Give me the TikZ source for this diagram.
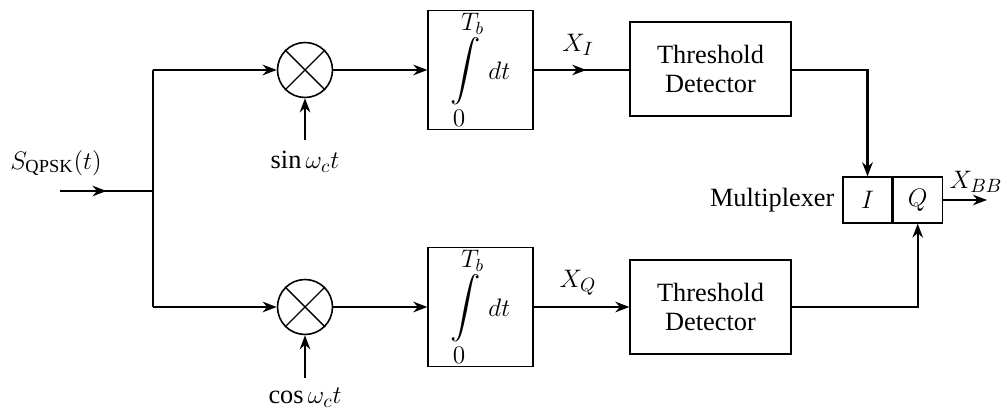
\documentclass[tikz,border=0pt]{standalone}
\usepackage{amsmath}
\usepackage{fontspec}
\setmainfont{Liberation Serif}
\usepackage{tikz}
\usetikzlibrary{arrows.meta,decorations.markings,positioning}
\newcommand{\intlim}[1]{\mbox{\fontsize{14}{16}\selectfont$#1$}}
\newcommand{\intbody}{{\fontsize{17}{20}\selectfont
  $\displaystyle\int\limits_{\intlim{0}}^{\intlim{T_b}}$}\;$dt$}

\begin{document}
\begin{tikzpicture}[x=0.02cm,y=-0.02cm,>={Stealth[length=8pt,width=6pt]},
  every node/.style={font=\fontsize{15}{17}\selectfont},
  sig/.style={line width=1.2pt},
  midarrow/.style={decoration={markings,
      mark=at position #1 with {\arrow{Stealth[length=8pt,width=6pt]}}},
    postaction={decorate}},
  mixer/.style={draw,circle,line width=0.9pt,minimum size=1.1cm,inner sep=0pt},
  intbox/.style={draw,line width=0.7pt,minimum width=2.1cm,
    minimum height=2.38cm,inner sep=0pt},
  detbox/.style={draw,line width=0.7pt,minimum width=3.22cm,
    minimum height=1.88cm,align=center},
  muxbox/.style={draw,line width=0.7pt,minimum width=0.98cm,
    minimum height=0.92cm,inner sep=0pt}]
  \useasboundingbox (0,0) rectangle (1007,411);

  % input and split
  \coordinate (in) at (60,191);
  \coordinate (split) at (153,191);
  \coordinate (splitI) at (153,70);
  \coordinate (splitQ) at (153,307);
  \node (slbl) at (56,163) {$S_{\mathrm{QPSK}}(t)$};

  % mixers
  \node[mixer] (mixI) at (305,70) {};
  \node[mixer] (mixQ) at (305,307) {};
  \draw[line width=0.8pt] (mixI.north west) -- (mixI.south east)
    (mixI.north east) -- (mixI.south west);
  \draw[line width=0.8pt] (mixQ.north west) -- (mixQ.south east)
    (mixQ.north east) -- (mixQ.south west);
  \coordinate (sinsrc) at (305,140);
  \coordinate (cossrc) at (305,378);
  \node (sinlbl) at (305,162) {$\sin\omega_c t$};
  \node (coslbl) at (305,398) {$\cos\omega_c t$};

  % integrators
  \node[intbox] (intI) at (480.5,70) {\intbody};
  \node[intbox] (intQ) at (480.5,307) {\intbody};

  % detectors
  \node[detbox] (detI) at (710.5,69) {Threshold\\Detector};
  \node[detbox] (detQ) at (710.5,307) {Threshold\\Detector};
  \node (xi) at (578,45) {$X_I$};
  \node (xq) at (578,283) {$X_Q$};

  % multiplexer
  \node[muxbox] (muxI) at (867.5,200) {$I$};
  \node[muxbox,anchor=west] (muxQ) at (muxI.east) {$Q$};
  \node[left=1pt of muxI] (muxlbl) {Multiplexer};
  \coordinate (out) at (987,200);
  \node (xbb) at (976,182) {$X_{BB}$};

  % connectors
  \draw[sig,midarrow=0.5] (in) -- (split);
  \draw[sig] (splitI) -- (splitQ);
  \draw[sig,->] (splitI) -- (mixI);
  \draw[sig,->] (splitQ) -- (mixQ);
  \draw[sig,->] (sinsrc) -- (mixI);
  \draw[sig,->] (cossrc) -- (mixQ);
  \draw[sig,->] (mixI) -- (intI);
  \draw[sig,->] (mixQ) -- (intQ);
  \draw[sig,midarrow=0.55] (intI.east) -- (detI.west |- intI.east);
  \draw[sig,->] (intQ) -- (detQ);
  \draw[sig,->] (detI.east |- intI.east) -| (muxI.north);
  \draw[sig,->] (detQ) -| (muxQ.south);
  \draw[sig,->] (muxQ.east) -- (out);
\end{tikzpicture}
\end{document}
